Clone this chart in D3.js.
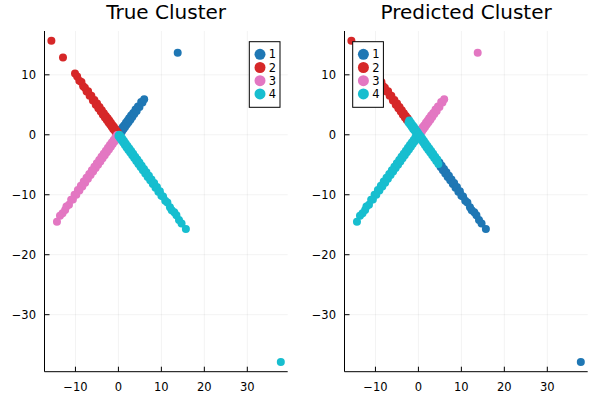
<!DOCTYPE html>
<meta charset="utf-8">
<style>

    body {
        margin: 0;
        background: #fff;
    }

    text {
        font-family: "DejaVu Sans", sans-serif;
        fill: #000;
    }

    .grid line {
        stroke: #000;
        stroke-opacity: 0.1;
        stroke-width: 0.5;
    }

    .axis-line, .tick-mark {
        stroke: #000;
        stroke-width: 1;
    }

</style>
<svg width="600" height="400"></svg>
<script src="https://d3js.org/d3.v7.min.js"></script>
<script>
    // each point: [x, y, predicted cluster]; true cluster is the array it sits in
    var cluster1 = [
        [0.05, 0.2, 3], [0.22, 0.05, 3], [0.35, 0.6, 3], [0.55, 0.3, 3], [0.7, 0.95, 3],
        [0.85, 0.6, 3], [1.02, 1.3, 3], [1.2, 0.95, 3], [1.38, 1.6, 3], [1.55, 1.3, 3],
        [1.75, 2.0, 3], [1.95, 1.7, 3], [2.12, 2.35, 3], [2.35, 2.1, 3], [2.5, 2.75, 3],
        [2.78, 2.5, 3], [2.95, 3.2, 3], [3.22, 2.95, 3], [3.45, 3.65, 3], [3.7, 3.45, 3],
        [3.98, 4.2, 3], [4.25, 3.95, 3], [4.55, 4.7, 3], [4.9, 4.65, 3], [5.3, 5.45, 3],
        [5.6, 5.4, 3], [6.0, 5.93, 3], [13.8, 13.7, 3]
    ];
    var cluster2 = [
        [-0.08, 0.3, 4], [-0.25, 0.05, 4], [-0.4, 0.65, 4], [-0.57, 0.35, 4], [-0.73, 0.98, 4],
        [-0.9, 0.7, 4], [-1.06, 1.32, 4], [-1.22, 0.98, 4], [-1.4, 1.65, 4], [-1.57, 1.35, 4],
        [-1.75, 2.02, 4], [-1.93, 1.7, 4], [-2.12, 2.38, 4], [-2.3, 2.05, 4], [-2.5, 2.75, 2],
        [-2.71, 2.45, 2], [-2.92, 3.15, 2], [-3.15, 2.9, 2], [-3.38, 3.6, 2], [-3.62, 3.35, 2],
        [-3.87, 4.1, 2], [-4.12, 3.88, 2], [-4.4, 4.62, 2], [-4.68, 4.42, 2], [-4.97, 5.2, 2],
        [-5.27, 5.02, 2], [-5.6, 5.82, 2], [-5.94, 5.7, 2], [-6.3, 6.5, 2], [-6.7, 6.5, 2],
        [-7.05, 7.25, 2], [-7.4, 7.2, 2], [-7.8, 7.85, 2], [-8.2, 8.1, 2], [-8.6, 8.8, 2],
        [-9.1, 9.0, 2], [-9.6, 9.7, 2], [-10.1, 10.2, 2], [-12.9, 12.9, 2], [-15.6, 15.7, 2]
    ];
    var cluster3 = [
        [-0.1, -0.3, 4], [-0.3, -0.05, 4], [-0.5, -0.72, 4], [-0.7, -0.45, 4], [-0.9, -1.12, 4],
        [-1.1, -0.85, 4], [-1.32, -1.55, 4], [-1.54, -1.28, 4], [-1.76, -2.0, 4], [-1.98, -1.72, 4],
        [-2.2, -2.45, 4], [-2.44, -2.18, 4], [-2.68, -2.92, 4], [-2.92, -2.66, 4], [-3.17, -3.42, 4],
        [-3.42, -3.15, 4], [-3.68, -3.92, 4], [-3.94, -3.68, 4], [-4.2, -4.45, 4], [-4.47, -4.2, 4],
        [-4.74, -4.98, 4], [-5.02, -4.75, 4], [-5.3, -5.55, 4], [-5.59, -5.32, 4], [-5.88, -6.12, 4],
        [-6.18, -5.9, 4], [-6.48, -6.72, 4], [-6.79, -6.52, 4], [-7.1, -7.35, 4], [-7.42, -7.15, 4],
        [-7.74, -7.98, 4], [-8.07, -7.8, 4], [-8.4, -8.62, 4], [-8.74, -8.5, 4], [-9.08, -9.3, 4],
        [-9.43, -9.2, 4], [-9.8, -10.0, 4], [-10.2, -10.0, 4], [-10.6, -10.8, 4], [-11.0, -10.85, 4],
        [-11.5, -11.65, 4], [-12.1, -11.95, 4], [-12.4, -12.55, 4], [-13.0, -13.1, 4], [-13.6, -13.5, 4],
        [-14.3, -14.5, 4]
    ];
    var cluster4 = [
        [0.02, -0.2, 4], [0.18, 0.02, 4], [0.36, -0.55, 4], [0.55, -0.3, 4], [0.73, -0.92, 4],
        [0.92, -0.65, 4], [1.11, -1.3, 4], [1.3, -1.05, 4], [1.5, -1.7, 4], [1.7, -1.45, 4],
        [1.9, -2.1, 4], [2.11, -1.85, 4], [2.32, -2.52, 4], [2.54, -2.28, 4], [2.76, -2.96, 4],
        [2.98, -2.72, 4], [3.21, -3.42, 4], [3.44, -3.18, 4], [3.67, -3.88, 4], [3.91, -3.65, 4],
        [4.15, -4.38, 4], [4.4, -4.12, 4], [4.65, -4.88, 4], [4.9, -4.62, 1], [5.16, -5.38, 1],
        [5.42, -5.15, 1], [5.69, -5.9, 1], [5.96, -5.7, 1], [6.24, -6.45, 1], [6.52, -6.25, 1],
        [6.81, -7.02, 1], [7.1, -6.85, 1], [7.4, -7.6, 1], [7.7, -7.45, 1], [8.01, -8.2, 1],
        [8.32, -8.05, 1], [8.64, -8.82, 1], [8.97, -8.7, 1], [9.3, -9.48, 1], [9.65, -9.4, 1],
        [10.0, -10.15, 1], [10.4, -10.3, 1], [10.9, -11.0, 1], [11.4, -11.3, 1], [12.0, -12.1, 1],
        [12.4, -12.6, 1], [13.0, -12.9, 1], [13.5, -13.4, 1], [14.1, -14.2, 1], [14.7, -14.8, 1],
        [15.7, -15.7, 1], [37.8, -37.9, 1]
    ];

    var clusters = [1, 2, 3, 4];
    var clusterColors = ["#1f77b4", "#d62728", "#e377c2", "#17becf"];
    var panelTitles = ["True Cluster", "Predicted Cluster"];
    var xTicks = [-10, 0, 10, 20, 30];
    var yTicks = [-30, -20, -10, 0, 10];

    // flatten into rows with both labels
    var points = [];
    [cluster1, cluster2, cluster3, cluster4].forEach(function (arr, i) {
        arr.forEach(function (p) {
            points.push({x: p[0], y: p[1], truth: clusters[i], pred: p[2]});
        });
    });

    var svg = d3.select("svg");

    var plotLeft = 44.5,
        plotRight = 287.7,
        plotTop = 31,
        plotBottom = 371.7,
        panelStep = 300;

    // Plots.jl style: pad the data range by 3% on each side
    function padded(ext) {
        var pad = (ext[1] - ext[0]) * 0.03;
        return [ext[0] - pad, ext[1] + pad];
    }

    var x = d3.scaleLinear()
        .domain(padded(d3.extent(points, function (d) { return d.x; })))
        .range([plotLeft, plotRight]);

    var y = d3.scaleLinear()
        .domain(padded(d3.extent(points, function (d) { return d.y; })))
        .range([plotBottom, plotTop]);

    var color = d3.scaleOrdinal()
        .domain(clusters)
        .range(clusterColors);

    var legendSpots = [
        {x: 249.3, w: 30.7},
        {x: 52.7, w: 30.7}
    ];

    panelTitles.forEach(function (title, pi) {
        var key = pi === 0 ? "truth" : "pred";
        var g = svg.append("g")
            .attr("transform", "translate(" + (pi * panelStep) + ",0)");

        var grid = g.append("g").attr("class", "grid");
        grid.selectAll(".gx")
            .data(xTicks)
            .enter().append("line")
            .attr("x1", x).attr("x2", x)
            .attr("y1", plotTop).attr("y2", plotBottom);
        grid.selectAll(".gy")
            .data(yTicks)
            .enter().append("line")
            .attr("x1", plotLeft).attr("x2", plotRight)
            .attr("y1", y).attr("y2", y);

        // series drawn in label order so later clusters sit on top
        clusters.forEach(function (c) {
            g.append("g")
                .selectAll("circle")
                .data(points.filter(function (d) { return d[key] === c; }))
                .enter().append("circle")
                .attr("cx", function (d) { return x(d.x); })
                .attr("cy", function (d) { return y(d.y); })
                .attr("r", 4)
                .style("fill", color(c));
        });

        // axes: left and bottom only, ticks pointing inward
        g.append("line").attr("class", "axis-line")
            .attr("x1", plotLeft).attr("x2", plotLeft)
            .attr("y1", plotTop).attr("y2", plotBottom);
        g.append("line").attr("class", "axis-line")
            .attr("x1", plotLeft).attr("x2", plotRight)
            .attr("y1", plotBottom).attr("y2", plotBottom);

        g.selectAll(".xt")
            .data(xTicks)
            .enter().append("line").attr("class", "tick-mark")
            .attr("x1", x).attr("x2", x)
            .attr("y1", plotBottom).attr("y2", plotBottom - 5);
        g.selectAll(".yt")
            .data(yTicks)
            .enter().append("line").attr("class", "tick-mark")
            .attr("x1", plotLeft).attr("x2", plotLeft + 5)
            .attr("y1", y).attr("y2", y);

        var fmt = function (v) { return v < 0 ? "\u2212" + Math.abs(v) : String(v); };

        g.selectAll(".xl")
            .data(xTicks)
            .enter().append("text")
            .attr("x", x)
            .attr("y", plotBottom + 11.6)
            .attr("dy", "0.71em")
            .attr("text-anchor", "middle")
            .style("font-size", "11.5px")
            .text(fmt);
        g.selectAll(".yl")
            .data(yTicks)
            .enter().append("text")
            .attr("x", plotLeft - 8.5)
            .attr("y", y)
            .attr("dy", "0.36em")
            .attr("text-anchor", "end")
            .style("font-size", "11.5px")
            .text(fmt);

        g.append("text")
            .attr("x", (plotLeft + plotRight) / 2)
            .attr("y", 19)
            .attr("text-anchor", "middle")
            .style("font-size", "20px")
            .text(title);

        // legend
        var spot = legendSpots[pi];
        var legend = g.append("g")
            .attr("transform", "translate(" + spot.x + "," + 41.7 + ")");
        legend.append("rect")
            .attr("width", spot.w)
            .attr("height", 65.6)
            .style("fill", "#fff")
            .style("stroke", "#000")
            .style("stroke-width", 1);
        var item = legend.selectAll(".item")
            .data(clusters)
            .enter().append("g")
            .attr("transform", function (d, i) { return "translate(0," + (12.6 + i * 13.2) + ")"; });
        item.append("circle")
            .attr("cx", 10.7)
            .attr("r", 5.5)
            .style("fill", function (d) { return color(d); });
        item.append("text")
            .attr("x", 19.5)
            .attr("dy", "0.36em")
            .style("font-size", "11.5px")
            .text(function (d) { return d; });
    });

</script>
